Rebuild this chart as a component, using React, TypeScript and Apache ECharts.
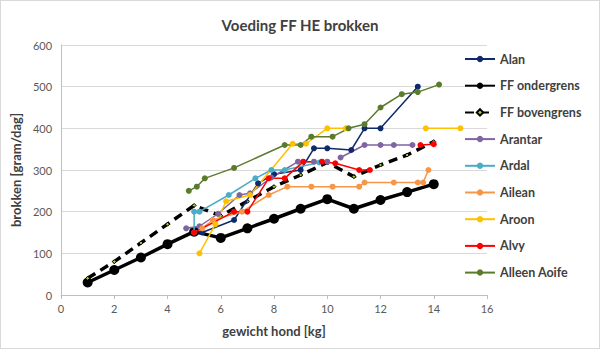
import React, { useEffect, useRef } from "react";
import * as echarts from "echarts";

type Pt = [number, number] | null;

const xTicks = { min: 0, max: 16, interval: 2 };
const yTicks = { min: 0, max: 600, interval: 100 };

const ffOnderX = [1, 2, 3, 4, 5, 6, 7, 8, 9, 10, 11, 12, 13, 14];
const ffOnderY = [30, 60, 90, 122, 152, 137, 160, 183, 207, 230, 207, 228, 247, 266];
const ffBovenY = [40, 80, 125, 170, 215, 190, 225, 260, 288, 318, 284, 312, 336, 368];

const alan: Pt[] = [[5.3, 150], [6.5, 180], [7.4, 268], [8.0, 290], [9.0, 300], [9.5, 352], [10.0, 352], [10.9, 348], [11.4, 400], [12.0, 400], [13.4, 500]];
const arantar: Pt[] = [[4.7, 160], [5.2, 165], [5.9, 195], [6.7, 240], [7.1, 244], [7.9, 282], [8.9, 320], [9.5, 320], [10.0, 320], null, [10.5, 330], [11.4, 360], [12.0, 360], [12.5, 360], [13.2, 360]];
const ardal: Pt[] = [[5.0, 150], [5.0, 200], [5.2, 200], [6.3, 240], [7.3, 280], [7.9, 300], [8.4, 300], [9.7, 318]];
const ailean: Pt[] = [[5.3, 160], [5.7, 180], [6.8, 200], [7.8, 240], [8.5, 260], [9.4, 260], [10.2, 260], [11.2, 260], [11.4, 270], [12.5, 270], [13.4, 270], [13.6, 270], [13.8, 300]];
const aroon: Pt[] = [[5.2, 100], [5.8, 170], [6.2, 225], [7.1, 240], [8.7, 363], [9.2, 363], [10.0, 400], [10.7, 400], null, [13.7, 400], [15.0, 400]];
const alvy: Pt[] = [[5.0, 150], [6.5, 200], [7.0, 200], [7.8, 280], [8.4, 280], [9.1, 320], [9.8, 320], [10.3, 316], [11.2, 300], [11.6, 300], null, [13.5, 360], [14.0, 362]];
const aoife: Pt[] = [[4.8, 250], [5.1, 260], [5.4, 280], [6.5, 305], [8.4, 360], [9.0, 360], [9.4, 380], [10.2, 380], [10.8, 400], [11.4, 410], [12.0, 450], [12.8, 482], [13.4, 487], [14.2, 505]];

const FONT = "Lato, 'Liberation Sans', sans-serif";

function toData(pts: Pt[]) {
  return pts.map((p) => (p === null ? ["-", "-"] : p));
}

function dog(name: string, color: string, pts: Pt[]) {
  return {
    name,
    type: "line",
    data: toData(pts),
    symbol: "circle",
    symbolSize: 6,
    showSymbol: true,
    lineStyle: { color, width: 1.5 },
    itemStyle: { color },
    connectNulls: false,
  };
}

export default function App() {
  const ref = useRef<HTMLDivElement>(null);
  useEffect(() => {
    document.body.style.margin = "0";
    const chart = echarts.init(ref.current!, null, { renderer: "svg" });
    chart.setOption({
      animation: false,
      backgroundColor: "#ffffff",
      title: {
        text: "Voeding FF HE brokken",
        left: "center",
        top: 11,
        textStyle: { fontFamily: FONT, fontSize: 15, fontWeight: "bold", color: "#404040" },
      },
      legend: {
        orient: "vertical",
        left: 463,
        top: 51,
        padding: 0,
        itemWidth: 30,
        itemHeight: 8,
        itemGap: 12.7,
        textStyle: { fontFamily: FONT, fontSize: 12.5, lineHeight: 14, fontWeight: "bold", color: "#404040" },
        data: ["Alan", "FF ondergrens", "FF bovengrens", "Arantar", "Ardal", "Ailean", "Aroon", "Alvy", "Alleen Aoife"],
      },
      grid: { left: 58, right: 112, top: 44, bottom: 53, containLabel: false },
      xAxis: {
        type: "value",
        min: xTicks.min,
        max: xTicks.max,
        interval: xTicks.interval,
        name: "gewicht hond [kg]",
        nameLocation: "middle",
        nameGap: 29,
        nameTextStyle: { fontFamily: FONT, fontSize: 13, fontWeight: "bold", color: "#404040" },
        axisLine: { show: true, lineStyle: { color: "#bfbfbf" } },
        axisTick: { show: true, length: 4, lineStyle: { color: "#bfbfbf" } },
        axisLabel: { fontFamily: FONT, fontSize: 11, color: "#595959", margin: 8 },
        splitLine: { show: false },
      },
      yAxis: {
        type: "value",
        min: yTicks.min,
        max: yTicks.max,
        interval: yTicks.interval,
        name: "brokken [gram/dag]",
        nameLocation: "middle",
        nameGap: 37,
        nameTextStyle: { fontFamily: FONT, fontSize: 13, fontWeight: "bold", color: "#404040" },
        axisLine: { show: true, lineStyle: { color: "#bfbfbf" } },
        axisTick: { show: false },
        axisLabel: { fontFamily: FONT, fontSize: 11, color: "#595959", margin: 9 },
        splitLine: { show: true, lineStyle: { color: "#d9d9d9", width: 1 } },
      },
      series: [
        dog("Alan", "#0f2a6b", alan),
        {
          name: "FF ondergrens",
          type: "line",
          data: ffOnderX.map((x, i) => [x, ffOnderY[i]]),
          symbol: "circle",
          symbolSize: 10,
          lineStyle: { color: "#000000", width: 3.5 },
          itemStyle: { color: "#000000" },
          z: 1,
        },
        {
          name: "FF bovengrens",
          type: "line",
          data: ffOnderX.map((x, i) => [x, ffBovenY[i]]),
          symbol: "diamond",
          symbolSize: 4,
          lineStyle: { color: "#000000", width: 3.5, type: [9, 6] },
          itemStyle: { color: "#a8c83c", borderColor: "#000000", borderWidth: 1 },
          z: 1,
        },
        dog("Arantar", "#8064a2", arantar),
        dog("Ardal", "#4bacc6", ardal),
        dog("Ailean", "#f79646", ailean),
        dog("Aroon", "#ffc000", aroon),
        dog("Alvy", "#ff0000", alvy),
        dog("Alleen Aoife", "#5b7b2c", aoife),
      ],
    });
    return () => chart.dispose();
  }, []);
  return (
    <div
      ref={ref}
      style={{ width: 600, height: 349, boxSizing: "border-box", border: "1px solid #d9d9d9" }}
    />
  );
}
